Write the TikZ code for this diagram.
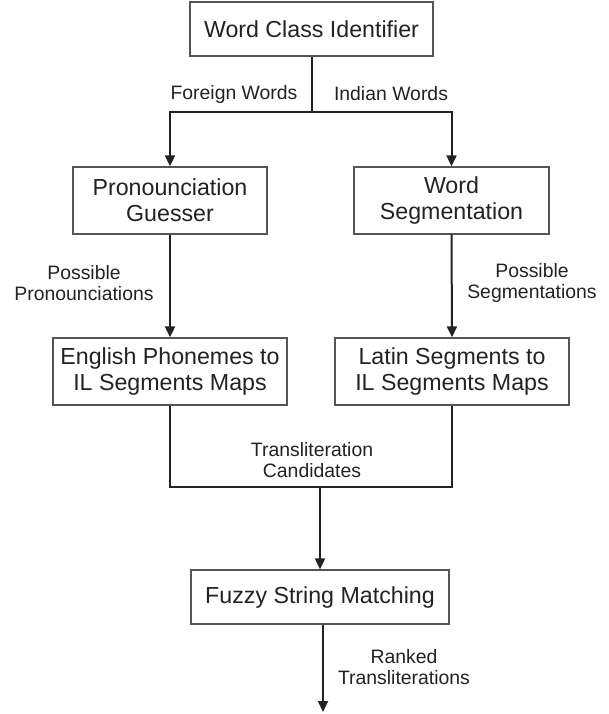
\documentclass[tikz,border=0pt]{standalone}
\usepackage{fontspec}
\setmainfont{Liberation Sans}
\usetikzlibrary{arrows.meta,calc}
\definecolor{ink}{HTML}{222222}
\definecolor{boxline}{HTML}{555555}
\begin{document}
\begin{tikzpicture}[x=1pt,y=-1pt,
  procbox/.style={draw=boxline,line width=1.3pt,fill=white,inner sep=0pt,align=center,
    text=ink,font=\fontsize{23.2}{26}\selectfont},
  flowlabel/.style={inner sep=0pt,align=center,text=ink,font=\fontsize{19.4}{21}\selectfont},
  conn/.style={draw=ink,line width=2pt},
  arr/.style={conn,-{Triangle[length=11pt,width=10pt]}}
]
\useasboundingbox (0,0) rectangle (609,714);
\node[procbox,minimum width=243pt,minimum height=54pt] (wci) at (311.5,29) {Word Class Identifier};
\node[procbox,minimum width=194pt,minimum height=67pt] (pg) at (170,200.5) {Pronounciation\\Guesser};
\node[procbox,minimum width=195pt,minimum height=67pt] (ws) at (451.5,200.5) {Word\\Segmentation};
\node[procbox,minimum width=234pt,minimum height=67pt] (ep) at (170,371.5) {English Phonemes to\\IL Segments Maps};
\node[procbox,minimum width=234pt,minimum height=67pt] (ls) at (452,371.5) {Latin Segments to\\IL Segments Maps};
\node[procbox,minimum width=258pt,minimum height=54pt] (fsm) at (320,597) {Fuzzy String Matching};
\coordinate (split) at (312,112);
\coordinate (join) at (320,487);
\coordinate (out) at (323,712);
% top split
\draw[conn] (split |- wci.south) -- (split);
\draw[arr] (split) -| (pg.north);
\draw[arr] (split) -| (ws.north);
% middle
\draw[arr] (pg.south) -- (ep.north);
\draw[arr] (ws.south) -- (ls.north);
% join
\draw[conn] (ep.south) |- (join) -| (ls.south);
\draw[arr] (join) -- (join |- fsm.north);
% output
\draw[arr] (out |- fsm.south) -- (out);
% labels
\node[flowlabel] (lfw) at (234,94) {Foreign Words};
\node[flowlabel] (liw) at (391,94) {Indian Words};
\node[flowlabel] (lpp) at (84,283) {Possible\\Pronounciations};
\node[flowlabel] (lps) at (532,283) {Possible\\Segmentations};
\node[flowlabel] (ltc) at (312,460) {Transliteration\\Candidates};
\node[flowlabel] (lrt) at (404,667) {Ranked\\Transliterations};
\end{tikzpicture}
\end{document}
